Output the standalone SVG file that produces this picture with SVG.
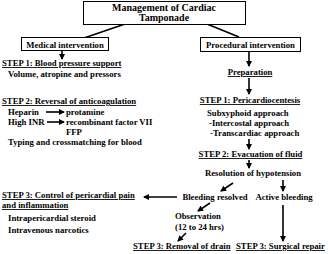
<svg xmlns="http://www.w3.org/2000/svg" width="328" height="254" viewBox="0 0 328 254">
<defs>
<marker id="ah" markerWidth="6" markerHeight="6" refX="5" refY="3" orient="auto" markerUnits="userSpaceOnUse"><path d="M0,0 L6,3 L0,6 z" fill="#000"/></marker>
<style>
text{font-family:"Liberation Serif","Times New Roman",serif;font-weight:bold;font-size:8.7px;fill:#000}
.t{font-size:10px}
.u{text-decoration:underline}
.m{text-anchor:middle}
.b{fill:#fff;stroke:#000;stroke-width:1}
.c{stroke:#000;stroke-width:1.6;fill:none}
.a{marker-end:url(#ah)}
</style>
</defs>
<rect width="328" height="254" fill="#fff"/>
<g id="connectors">
<line class="c" x1="125" y1="24" x2="84" y2="38"/>
<line class="c" x1="207" y1="24" x2="239" y2="37"/>
<line class="c a" x1="62" y1="50" x2="62" y2="59"/>
<line class="c a" x1="249" y1="52" x2="249" y2="66"/>
<line class="c a" x1="249" y1="78" x2="249" y2="94"/>
<line class="c a" x1="249" y1="139" x2="249" y2="149"/>
<line class="c a" x1="249" y1="160" x2="249" y2="168"/>
<line class="c a" x1="46" y1="112" x2="64" y2="112"/>
<line class="c a" x1="47" y1="122" x2="64" y2="122"/>
<line class="c a" x1="233" y1="183" x2="221" y2="191"/>
<line class="c a" x1="283" y1="180" x2="283" y2="191"/>
<line class="c a" x1="283" y1="205" x2="283" y2="241"/>
<line class="c a" x1="210" y1="203" x2="198" y2="211"/>
<line class="c a" x1="186" y1="233" x2="178" y2="241"/>
<line class="c a" x1="177" y1="197" x2="144" y2="197"/>
</g>
<g id="title">
<rect class="b" x="83.5" y="1.5" width="162" height="23"/>
<text class="t m" x="164" y="10.5">Management of Cardiac</text>
<text class="t m" x="164" y="20.5">Tamponade</text>
</g>
<g id="medical">
<rect class="b" x="21.5" y="37.5" width="87" height="13"/>
<text class="m" x="65" y="47.5">Medical intervention</text>
</g>
<g id="procedural">
<rect class="b" x="200.5" y="37.5" width="100" height="14"/>
<text class="m" x="250.5" y="47.5">Procedural intervention</text>
</g>
<g id="med-step1">
<text class="u" x="2" y="66">STEP 1: Blood pressure support</text>
<text x="8" y="77">Volume, atropine and pressors</text>
</g>
<g id="med-step2">
<text class="u" x="2" y="104">STEP 2: Reversal of anticoagulation</text>
<text x="8" y="115">Heparin</text>
<text x="66" y="115">protamine</text>
<text x="8" y="125">High INR</text>
<text x="66" y="125">recombinant factor VII</text>
<text x="66" y="135">FFP</text>
<text x="8" y="145">Typing and crossmatching for blood</text>
</g>
<g id="preparation">
<text class="u m" x="250" y="75">Preparation</text>
</g>
<g id="proc-step1">
<text class="u m" x="250" y="103">STEP 1: Pericardiocentesis</text>
<text x="207" y="116">Subxyphoid approach</text>
<text x="209" y="126">-Intercostal approach</text>
<text x="210" y="136">-Transcardiac approach</text>
</g>
<g id="proc-step2">
<text class="u m" x="250.5" y="157">STEP 2: Evacuation of fluid</text>
</g>
<g id="resolution">
<text class="m" x="253" y="175.5">Resolution of hypotension</text>
</g>
<g id="bleeding-resolved">
<text class="m" x="215" y="200">Bleeding resolved</text>
</g>
<g id="active-bleeding">
<text class="m" x="284" y="200">Active bleeding</text>
</g>
<g id="step3-pain">
<text class="u" x="2" y="198">STEP 3: Control of pericardial pain</text>
<text class="u" x="2" y="208">and inflammation</text>
<text x="8" y="221">Intrapericardial steroid</text>
<text x="8" y="233">Intravenous narcotics</text>
</g>
<g id="observation">
<text x="175" y="219">Observation</text>
<text x="175" y="230">(12 to 24 hrs)</text>
</g>
<g id="removal">
<text class="u" x="133" y="249">STEP 3: Removal of drain</text>
</g>
<g id="surgical">
<text class="u" x="236" y="249">STEP 3: Surgical repair</text>
</g>
</svg>
